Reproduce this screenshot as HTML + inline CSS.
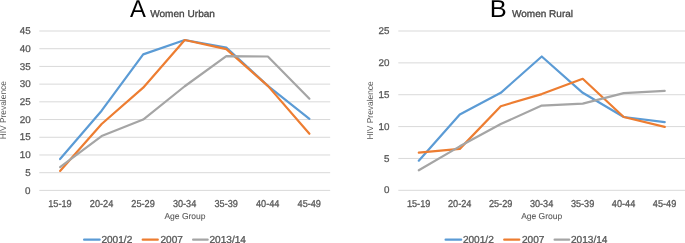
<!DOCTYPE html>
<html><head><meta charset="utf-8"><style>
html,body{margin:0;padding:0;background:#fff;width:685px;height:243px;overflow:hidden}
svg{display:block;font-family:"Liberation Sans", sans-serif;will-change:transform;text-rendering:geometricPrecision}
</style></head><body>
<svg width="685" height="243" viewBox="0 0 685 243">
<line x1="39.30" y1="190.40" x2="330.20" y2="190.40" stroke="#D9D9D9" stroke-width="1"/>
<line x1="39.30" y1="172.69" x2="330.20" y2="172.69" stroke="#D9D9D9" stroke-width="1"/>
<line x1="39.30" y1="154.98" x2="330.20" y2="154.98" stroke="#D9D9D9" stroke-width="1"/>
<line x1="39.30" y1="137.27" x2="330.20" y2="137.27" stroke="#D9D9D9" stroke-width="1"/>
<line x1="39.30" y1="119.56" x2="330.20" y2="119.56" stroke="#D9D9D9" stroke-width="1"/>
<line x1="39.30" y1="101.84" x2="330.20" y2="101.84" stroke="#D9D9D9" stroke-width="1"/>
<line x1="39.30" y1="84.13" x2="330.20" y2="84.13" stroke="#D9D9D9" stroke-width="1"/>
<line x1="39.30" y1="66.42" x2="330.20" y2="66.42" stroke="#D9D9D9" stroke-width="1"/>
<line x1="39.30" y1="48.71" x2="330.20" y2="48.71" stroke="#D9D9D9" stroke-width="1"/>
<line x1="39.30" y1="31.00" x2="330.20" y2="31.00" stroke="#D9D9D9" stroke-width="1"/>
<text x="25.10" y="193.50" font-size="9.8" fill="#595959" stroke="#595959" stroke-width="0.3">0</text>
<text x="25.20" y="175.79" font-size="9.8" fill="#595959" stroke="#595959" stroke-width="0.3">5</text>
<text x="19.71" y="158.08" font-size="9.8" fill="#595959" stroke="#595959" stroke-width="0.3">10</text>
<text x="19.71" y="140.37" font-size="9.8" fill="#595959" stroke="#595959" stroke-width="0.3">15</text>
<text x="19.71" y="122.66" font-size="9.8" fill="#595959" stroke="#595959" stroke-width="0.3">20</text>
<text x="19.71" y="104.94" font-size="9.8" fill="#595959" stroke="#595959" stroke-width="0.3">25</text>
<text x="19.71" y="87.23" font-size="9.8" fill="#595959" stroke="#595959" stroke-width="0.3">30</text>
<text x="19.71" y="69.52" font-size="9.8" fill="#595959" stroke="#595959" stroke-width="0.3">35</text>
<text x="19.71" y="51.81" font-size="9.8" fill="#595959" stroke="#595959" stroke-width="0.3">40</text>
<text x="19.71" y="34.10" font-size="9.8" fill="#595959" stroke="#595959" stroke-width="0.3">45</text>
<text x="48.23" y="206.50" font-size="10.0" fill="#595959" stroke="#595959" stroke-width="0.3" textLength="23.40" lengthAdjust="spacingAndGlyphs">15-19</text>
<text x="89.83" y="206.50" font-size="10.0" fill="#595959" stroke="#595959" stroke-width="0.3" textLength="23.40" lengthAdjust="spacingAndGlyphs">20-24</text>
<text x="131.34" y="206.50" font-size="10.0" fill="#595959" stroke="#595959" stroke-width="0.3" textLength="23.40" lengthAdjust="spacingAndGlyphs">25-29</text>
<text x="172.90" y="206.50" font-size="10.0" fill="#595959" stroke="#595959" stroke-width="0.3" textLength="23.40" lengthAdjust="spacingAndGlyphs">30-34</text>
<text x="214.46" y="206.50" font-size="10.0" fill="#595959" stroke="#595959" stroke-width="0.3" textLength="23.40" lengthAdjust="spacingAndGlyphs">35-39</text>
<text x="256.02" y="206.50" font-size="10.0" fill="#595959" stroke="#595959" stroke-width="0.3" textLength="23.40" lengthAdjust="spacingAndGlyphs">40-44</text>
<text x="297.57" y="206.50" font-size="10.0" fill="#595959" stroke="#595959" stroke-width="0.3" textLength="23.40" lengthAdjust="spacingAndGlyphs">45-49</text>
<polyline points="60.08,159.05 101.64,110.70 143.19,54.38 184.75,40.03 226.31,47.65 267.86,85.90 309.42,118.85" fill="none" stroke="#5B9BD5" stroke-width="2.2" stroke-linejoin="round" stroke-linecap="round"/>
<polyline points="60.08,170.92 101.64,123.98 143.19,87.68 184.75,40.03 226.31,49.07 267.86,85.90 309.42,133.72" fill="none" stroke="#ED7D31" stroke-width="2.2" stroke-linejoin="round" stroke-linecap="round"/>
<polyline points="60.08,167.20 101.64,136.03 143.19,119.56 184.75,86.26 226.31,56.15 267.86,56.50 309.42,98.66" fill="none" stroke="#A5A5A5" stroke-width="2.2" stroke-linejoin="round" stroke-linecap="round"/>
<line x1="398.30" y1="190.30" x2="685.20" y2="190.30" stroke="#D9D9D9" stroke-width="1"/>
<line x1="398.30" y1="158.44" x2="685.20" y2="158.44" stroke="#D9D9D9" stroke-width="1"/>
<line x1="398.30" y1="126.58" x2="685.20" y2="126.58" stroke="#D9D9D9" stroke-width="1"/>
<line x1="398.30" y1="94.72" x2="685.20" y2="94.72" stroke="#D9D9D9" stroke-width="1"/>
<line x1="398.30" y1="62.86" x2="685.20" y2="62.86" stroke="#D9D9D9" stroke-width="1"/>
<line x1="398.30" y1="31.00" x2="685.20" y2="31.00" stroke="#D9D9D9" stroke-width="1"/>
<text x="383.90" y="193.40" font-size="9.8" fill="#595959" stroke="#595959" stroke-width="0.3">0</text>
<text x="384.00" y="161.54" font-size="9.8" fill="#595959" stroke="#595959" stroke-width="0.3">5</text>
<text x="378.51" y="129.68" font-size="9.8" fill="#595959" stroke="#595959" stroke-width="0.3">10</text>
<text x="378.51" y="97.82" font-size="9.8" fill="#595959" stroke="#595959" stroke-width="0.3">15</text>
<text x="378.51" y="65.96" font-size="9.8" fill="#595959" stroke="#595959" stroke-width="0.3">20</text>
<text x="378.51" y="34.10" font-size="9.8" fill="#595959" stroke="#595959" stroke-width="0.3">25</text>
<text x="406.94" y="206.50" font-size="10.0" fill="#595959" stroke="#595959" stroke-width="0.3" textLength="23.40" lengthAdjust="spacingAndGlyphs">15-19</text>
<text x="447.98" y="206.50" font-size="10.0" fill="#595959" stroke="#595959" stroke-width="0.3" textLength="23.40" lengthAdjust="spacingAndGlyphs">20-24</text>
<text x="488.92" y="206.50" font-size="10.0" fill="#595959" stroke="#595959" stroke-width="0.3" textLength="23.40" lengthAdjust="spacingAndGlyphs">25-29</text>
<text x="529.90" y="206.50" font-size="10.0" fill="#595959" stroke="#595959" stroke-width="0.3" textLength="23.40" lengthAdjust="spacingAndGlyphs">30-34</text>
<text x="570.89" y="206.50" font-size="10.0" fill="#595959" stroke="#595959" stroke-width="0.3" textLength="23.40" lengthAdjust="spacingAndGlyphs">35-39</text>
<text x="611.87" y="206.50" font-size="10.0" fill="#595959" stroke="#595959" stroke-width="0.3" textLength="23.40" lengthAdjust="spacingAndGlyphs">40-44</text>
<text x="652.86" y="206.50" font-size="10.0" fill="#595959" stroke="#595959" stroke-width="0.3" textLength="23.40" lengthAdjust="spacingAndGlyphs">45-49</text>
<polyline points="418.79,160.67 459.78,114.47 500.76,92.81 541.75,56.49 582.74,92.81 623.72,117.02 664.71,122.12" fill="none" stroke="#5B9BD5" stroke-width="2.2" stroke-linejoin="round" stroke-linecap="round"/>
<polyline points="418.79,152.71 459.78,148.88 500.76,106.19 541.75,94.08 582.74,78.79 623.72,117.02 664.71,126.90" fill="none" stroke="#ED7D31" stroke-width="2.2" stroke-linejoin="round" stroke-linecap="round"/>
<polyline points="418.79,170.23 459.78,146.33 500.76,124.03 541.75,105.55 582.74,103.64 623.72,93.13 664.71,90.90" fill="none" stroke="#A5A5A5" stroke-width="2.2" stroke-linejoin="round" stroke-linecap="round"/>
<text x="130.10" y="17.10" font-size="24.5" fill="#000" textLength="15.87" lengthAdjust="spacingAndGlyphs">A</text>
<text x="150.20" y="17.05" font-size="9.8" fill="#444444" stroke="#444444" stroke-width="0.3" textLength="64.79" lengthAdjust="spacingAndGlyphs">Women Urban</text>
<text x="489.76" y="17.00" font-size="24.5" fill="#000" textLength="16.99" lengthAdjust="spacingAndGlyphs">B</text>
<text x="512.00" y="16.95" font-size="9.8" fill="#444444" stroke="#444444" stroke-width="0.3" textLength="61.05" lengthAdjust="spacingAndGlyphs">Women Rural</text>
<text x="164.44" y="219.35" font-size="8.5" fill="#595959" stroke="#595959" stroke-width="0.1">Age Group</text>
<text x="521.14" y="219.35" font-size="8.5" fill="#595959" stroke="#595959" stroke-width="0.1">Age Group</text>
<text transform="translate(6.00,138.70) rotate(-90)" x="-0.67" y="0" font-size="8.6" fill="#595959" textLength="58.27" lengthAdjust="spacingAndGlyphs">HIV Prevalence</text>
<text transform="translate(373.10,138.90) rotate(-90)" x="-0.67" y="0" font-size="8.6" fill="#595959" textLength="58.27" lengthAdjust="spacingAndGlyphs">HIV Prevalence</text>
<line x1="84.10" y1="239.7" x2="99.70" y2="239.7" stroke="#5B9BD5" stroke-width="2.2" stroke-linecap="round"/>
<line x1="142.70" y1="239.7" x2="157.80" y2="239.7" stroke="#ED7D31" stroke-width="2.2" stroke-linecap="round"/>
<line x1="193.10" y1="239.7" x2="207.70" y2="239.7" stroke="#A5A5A5" stroke-width="2.2" stroke-linecap="round"/>
<text x="101.40" y="242.90" font-size="10.1" fill="#595959" stroke="#595959" stroke-width="0.3">2001/2</text>
<text x="160.50" y="242.90" font-size="10.1" fill="#595959" stroke="#595959" stroke-width="0.3">2007</text>
<text x="209.50" y="242.90" font-size="10.1" fill="#595959" stroke="#595959" stroke-width="0.3">2013/14</text>
<line x1="445.60" y1="239.7" x2="461.20" y2="239.7" stroke="#5B9BD5" stroke-width="2.2" stroke-linecap="round"/>
<line x1="504.20" y1="239.7" x2="519.30" y2="239.7" stroke="#ED7D31" stroke-width="2.2" stroke-linecap="round"/>
<line x1="554.60" y1="239.7" x2="569.20" y2="239.7" stroke="#A5A5A5" stroke-width="2.2" stroke-linecap="round"/>
<text x="462.89" y="242.90" font-size="10.1" fill="#595959" stroke="#595959" stroke-width="0.3">2001/2</text>
<text x="522.00" y="242.90" font-size="10.1" fill="#595959" stroke="#595959" stroke-width="0.3">2007</text>
<text x="571.00" y="242.90" font-size="10.1" fill="#595959" stroke="#595959" stroke-width="0.3">2013/14</text>
</svg>
</body></html>
